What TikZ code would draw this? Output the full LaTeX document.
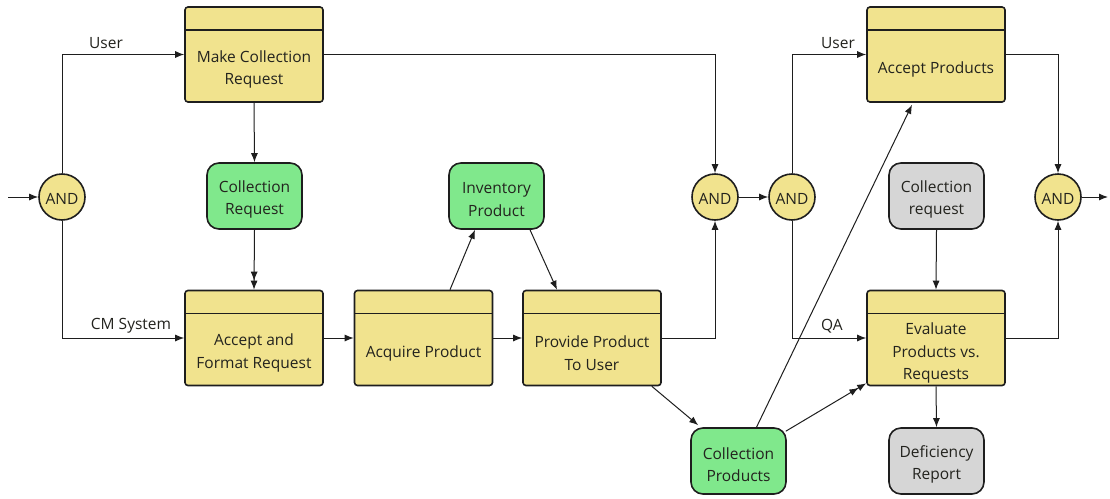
\documentclass[tikz,border=0pt]{standalone}
\usepackage{fontspec}
\setmainfont{Open Sans}
\usetikzlibrary{arrows.meta}
\definecolor{procfill}{RGB}{241,227,142}
\definecolor{greenfill}{RGB}{128,232,140}
\definecolor{greyfill}{RGB}{214,214,214}
\definecolor{edge}{RGB}{30,30,30}
\definecolor{txt}{RGB}{35,35,30}
\tikzset{
  base/.style={font=\fontsize{15.5}{22.5}\selectfont, text=txt, align=center},
  proc/.style={draw=edge, line width=1.6pt, fill=procfill, rounded corners=3pt,
    minimum width=138pt, minimum height=95pt, inner sep=0pt,
    path picture={\draw[edge, line width=1.2pt] ([yshift=-23pt]path picture bounding box.north west) -- ([yshift=-23pt]path picture bounding box.north east);}},
  ptxt/.style={base, inner sep=0pt},
  obj/.style={draw=edge, line width=1.6pt, rounded corners=12pt,
    minimum width=95pt, minimum height=66pt, inner sep=0pt},
  gobj/.style={obj, fill=greenfill},
  yobj/.style={obj, fill=greyfill},
  andnode/.style={circle, draw=edge, line width=1.6pt, fill=procfill, minimum size=46pt, inner sep=0pt},
  arr/.style={draw=edge, line width=1pt, -{Latex[length=9pt,width=7pt]}},
  dbl/.style={draw=edge, line width=1pt, -{Latex[length=9pt,width=7pt]Latex[length=9pt,width=7pt]}},
  lbl/.style={base, inner sep=0pt}
}
\newcommand\procbox[4]{\node[proc] (#1) at (#2,#3) {}; \node[ptxt] (#1-t) at ([yshift=-15pt]#1.center) {#4};}
\newcommand\objbox[5]{\node[#2] (#1) at (#3,#4) {}; \node[ptxt] (#1-t) at ([yshift=-3.5pt]#1.center) {#5};}
\newcommand\andbox[3]{\node[andnode] (#1) at (#2,#3) {}; \node[ptxt] (#1-t) at ([yshift=-1.5pt]#1.center) {AND};}
\begin{document}
\begin{tikzpicture}[x=1pt,y=-1pt]
\useasboundingbox[fill=white] (0,0) rectangle (1110,498);
% process boxes
\procbox{mcr}{254}{54.5}{Make Collection\\Request}
\procbox{acc}{254}{338}{Accept and\\Format Request}
\procbox{acq}{423.5}{338}{Acquire Product}
\procbox{prov}{592}{338}{Provide Product\\To User}
\procbox{accp}{936}{54.5}{Accept Products}
\procbox{eval}{936}{338}{Evaluate\\Products vs.\\Requests}
% objects
\objbox{creq}{gobj}{254.5}{196}{Collection\\Request}
\objbox{invp}{gobj}{496.5}{196}{Inventory\\Product}
\objbox{cprod}{gobj}{738.5}{461}{Collection\\Products}
\objbox{creq2}{yobj}{936.5}{196}{Collection\\request}
\objbox{defr}{yobj}{936.5}{461}{Deficiency\\Report}
% AND junctions
\andbox{and1}{62}{197}
\andbox{and2}{715}{197}
\andbox{and3}{792}{197}
\andbox{and4}{1058}{197}
\coordinate (in) at (8,197);
\coordinate (out) at (1108,197);
% connectors
\draw[arr] (in) -- (and1);
\draw[arr] (and1.north) |- (mcr.west);
\draw[arr] (and1.south) |- (acc.west);
\node[lbl] (lu1) at (106,43) {User};
\node[lbl] (lcm) at (131,326) {CM System};
\draw[arr] (mcr.south) -- (creq.north);
\draw[dbl] (creq.south) -- (acc.north);
\draw[arr] (acc.east) -- (acq.west);
\draw[arr] (acq.east) -- (prov.west);
\draw[arr] ([xshift=26.5pt]acq.north) -- ([xshift=-21.5pt]invp.south);
\draw[arr] ([xshift=33.5pt]invp.south) -- ([xshift=-35pt]prov.north);
\draw[arr] (mcr.east) -| (and2.north);
\draw[arr] (prov.east) -| (and2.south);
\draw[arr] (and2) -- (and3);
\draw[arr] (and3.north) |- (accp.west);
\draw[arr] (and3.south) |- (eval.west);
\node[lbl] (lu2) at (838,43) {User};
\node[lbl] (lqa) at (832,326) {QA};
\draw[arr] ([xshift=-10pt]prov.south east) -- ([xshift=8pt,yshift=2pt]cprod.north west);
\draw[arr] ([xshift=18pt]cprod.north) -- ([xshift=-24pt,yshift=-2pt]accp.south);
\draw[dbl] ([xshift=-1pt,yshift=-4pt]cprod.north east) -- ([yshift=3pt]eval.south west);
\draw[arr] (creq2.south) -- (eval.north);
\draw[arr] (eval.south) -- (defr.north);
\draw[arr] (accp.east) -| (and4.north);
\draw[arr] (eval.east) -| (and4.south);
\draw[arr] (and4) -- (out);
\end{tikzpicture}
\end{document}
